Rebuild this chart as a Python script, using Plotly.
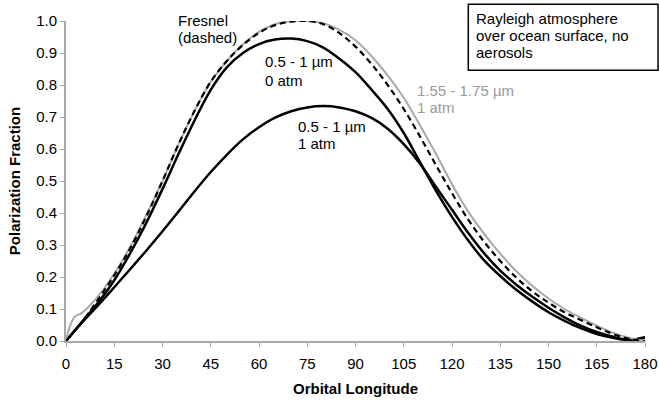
import plotly.graph_objects as go

# Orbital longitude sample points (degrees)
lon = [0, 5, 10, 15, 20, 25, 30, 35, 40, 45, 50, 55, 60, 65, 70, 75, 80, 85, 90,
       95, 100, 105, 110, 115, 120, 125, 130, 135, 140, 145, 150, 155, 160, 165,
       170, 175, 180]

# Fresnel (dashed)
fresnel = [0.0, 0.06, 0.13, 0.205, 0.29, 0.39, 0.50, 0.615, 0.72, 0.81, 0.875, 0.925,
           0.963, 0.987, 0.998, 1.0, 0.99, 0.962, 0.92, 0.865, 0.80, 0.725, 0.64, 0.55,
           0.462, 0.38, 0.31, 0.25, 0.198, 0.155, 0.12, 0.09, 0.066, 0.043, 0.022,
           0.007, 0.0]

# 1.55 - 1.75 um, 1 atm (gray)
lon_ir = [0, 1, 2, 3, 4, 5, 10, 15, 20, 25, 30, 35, 40, 45, 50, 55, 60, 65, 70, 75,
          80, 85, 90, 95, 100, 105, 110, 115, 120, 125, 130, 135, 140, 145, 150,
          155, 160, 165, 170, 175, 180]
ir_1atm = [0.0, 0.04, 0.065, 0.078, 0.083, 0.088, 0.14, 0.21, 0.295, 0.395, 0.50,
           0.615, 0.72, 0.81, 0.875, 0.927, 0.966, 0.99, 1.0, 1.0, 0.993, 0.972,
           0.94, 0.89, 0.83, 0.76, 0.675, 0.585, 0.49, 0.405, 0.335, 0.273, 0.218,
           0.172, 0.133, 0.10, 0.073, 0.048, 0.026, 0.01, 0.0]

# 0.5 - 1 um, 0 atm
vis_0atm = [0.0, 0.06, 0.12, 0.19, 0.275, 0.37, 0.475, 0.585, 0.69, 0.785, 0.855,
            0.90, 0.928, 0.942, 0.945, 0.937, 0.917, 0.882, 0.84, 0.785, 0.725, 0.65,
            0.56, 0.47, 0.388, 0.315, 0.252, 0.203, 0.16, 0.123, 0.09, 0.063, 0.04,
            0.022, 0.01, 0.003, 0.01]

# 0.5 - 1 um, 1 atm
vis_1atm = [0.0, 0.058, 0.112, 0.168, 0.225, 0.283, 0.343, 0.405, 0.468, 0.528, 0.582,
            0.63, 0.668, 0.698, 0.718, 0.73, 0.734, 0.73, 0.718, 0.697, 0.663, 0.615,
            0.555, 0.482, 0.41, 0.338, 0.274, 0.22, 0.176, 0.138, 0.104, 0.074, 0.048,
            0.028, 0.013, 0.004, 0.012]

x_ticks = [0, 15, 30, 45, 60, 75, 90, 105, 120, 135, 150, 165, 180]
y_ticks = [0.0, 0.1, 0.2, 0.3, 0.4, 0.5, 0.6, 0.7, 0.8, 0.9, 1.0]

FONT = "Liberation Sans, Arial, sans-serif"
GRAY = "#a8a8a8"

fig = go.Figure()
fig.add_trace(go.Scatter(x=lon, y=vis_1atm, mode="lines", line=dict(color="black", width=2.5, shape="spline"), showlegend=False))
fig.add_trace(go.Scatter(x=lon, y=vis_0atm, mode="lines", line=dict(color="black", width=2.5, shape="spline"), showlegend=False))
fig.add_trace(go.Scatter(x=lon_ir, y=ir_1atm, mode="lines", line=dict(color=GRAY, width=2, shape="spline"), showlegend=False))
fig.add_trace(go.Scatter(x=lon, y=fresnel, mode="lines", line=dict(color="black", width=2.2, dash="6px,4px", shape="spline"), showlegend=False))

def label(x, y, text, color="black"):
    fig.add_annotation(x=x, y=y, xref="paper", yref="paper", text=text, showarrow=False,
                       xanchor="left", yanchor="middle",
                       font=dict(family=FONT, size=15, color=color))

label(0.190, 1.002, "Fresnel")
label(0.190, 0.948, "(dashed)")
label(0.341, 0.872, "0.5 - 1 µm")
label(0.341, 0.815, "0 atm")
label(0.398, 0.669, "0.5 - 1 µm")
label(0.398, 0.617, "1 atm")
label(0.603, 0.784, "1.55 - 1.75 µm", "#9a9a9a")
label(0.603, 0.731, "1 atm", "#9a9a9a")
label(0.705, 1.0075, "Rayleigh atmosphere")
label(0.705, 0.955, "over ocean surface, no")
label(0.705, 0.903, "aerosols")

fig.add_shape(type="rect", xref="paper", yref="paper", x0=0.6948, x1=1.0225,
              y0=0.846, y1=1.052, line=dict(color="black", width=1.5), fillcolor="rgba(0,0,0,0)")

fig.update_layout(
    width=659, height=403,
    margin=dict(l=66, r=14, t=21, b=62),
    paper_bgcolor="white", plot_bgcolor="white",
    font=dict(family=FONT, size=15, color="black"),
)
fig.update_xaxes(range=[0, 180], tickvals=x_ticks, ticks="outside", ticklen=4,
                 tickcolor=GRAY, linecolor=GRAY, linewidth=2, showline=True,
                 showgrid=False, zeroline=False, automargin=False,
                 ticklabelstandoff=4,
                 tickfont=dict(family=FONT, size=15),
                 title=dict(text="<b>Orbital Longitude</b>", font=dict(family=FONT, size=15), standoff=12))
fig.update_yaxes(range=[0, 1.0], tickvals=y_ticks, tickformat=".1f", ticks="outside", ticklen=4,
                 tickcolor=GRAY, linecolor=GRAY, linewidth=2, showline=True,
                 showgrid=False, zeroline=False, automargin=False,
                 tickfont=dict(family=FONT, size=15),
                 title=dict(text="<b>Polarization Fraction</b>", font=dict(family=FONT, size=15), standoff=12))

fig.write_html("out.html", config={"displayModeBar": False},
               post_script="document.body.style.margin='0';document.body.style.overflow='hidden';")
